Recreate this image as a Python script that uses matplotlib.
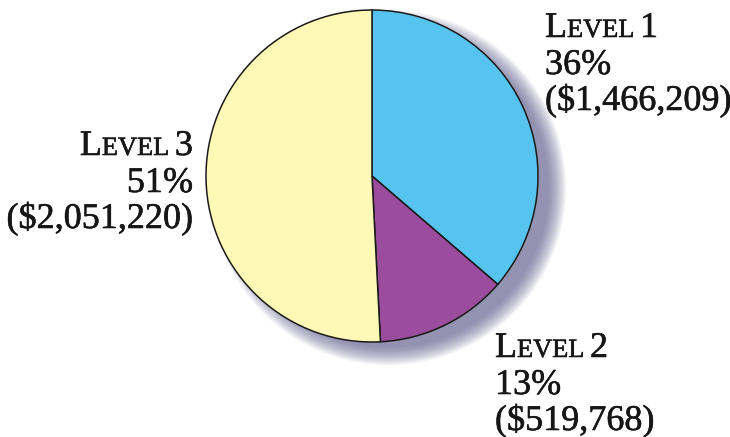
import matplotlib
matplotlib.use("Agg")
import matplotlib.pyplot as plt
import matplotlib.patheffects as pe
from matplotlib.patches import Circle

labels = ["Level 1", "Level 2", "Level 3"]
amounts = [1466209, 519768, 2051220]
percents = ["36%", "13%", "51%"]
colors = ["#56c4ef", "#9b4c9c", "#fff8b6"]

W, H = 730, 437
fig = plt.figure(figsize=(W / 100, H / 100), dpi=100)
fig.patch.set_facecolor("white")

# pie centre (372,176) px, radius 166 px
cx, cy, r = 372, 176, 166
ax = fig.add_axes([(cx - r) / W, (H - cy - r) / H, 2 * r / W, 2 * r / H])
ax.axis("off")

# soft drop shadow to the lower right
n = 24
for i in range(n):
    rad = 0.96 + 0.11 * (n - i) / n
    ax.add_patch(Circle((0.1, -0.07), rad, color="#5c5a8c", alpha=0.04,
                        lw=0, clip_on=False, zorder=0))

ax.pie(amounts, colors=colors, startangle=90, counterclock=False,
       wedgeprops=dict(edgecolor="#1a1a1a", linewidth=1.1),
       radius=1.0)
ax.set_xlim(-1, 1)
ax.set_ylim(-1, 1)
ax.set_aspect("equal")
for w in ax.patches:
    w.set_clip_on(False)

serif = ["Liberation Serif", "DejaVu Serif"]
big, small = 26, 19
renderer = fig.canvas.get_renderer()
thick = [pe.withStroke(linewidth=0.4, foreground="#161616")]


def put_line(pieces, x, y, ha="left"):
    # pieces: list of (text, size); x,y in px from top-left, y = baseline
    arts = []
    for s, fs in pieces:
        t = fig.text(0, 0, s, fontsize=fs, family=serif, color="#161616",
                     ha="left", va="baseline", path_effects=thick)
        arts.append(t)
    widths = [a.get_window_extent(renderer).width for a in arts]
    total = sum(widths)
    x0 = x - total if ha == "right" else x
    for a, wd in zip(arts, widths):
        a.set_position((x0 / W, (H - y) / H))
        x0 += wd


def level_block(num, pct, amt, x, y0, ha):
    put_line([("L", big), ("EVEL ", small), (str(num), big)], x, y0, ha)
    put_line([(pct, big)], x, y0 + 37, ha)
    put_line([("(${:,})".format(amt), big)], x, y0 + 73, ha)


level_block(1, percents[0], amounts[0], 545, 37, "left")
level_block(2, percents[1], amounts[1], 495, 357, "left")
level_block(3, percents[2], amounts[2], 193, 155, "right")

fig.savefig("out.png", dpi=100)
